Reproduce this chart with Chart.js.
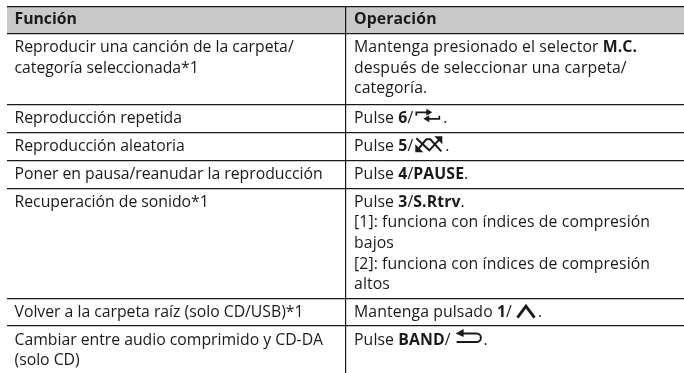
<!DOCTYPE html>
<html>
<head>
<meta charset="utf-8">
<script src="https://cdn.jsdelivr.net/npm/chart.js"></script>
<style>
  html, body { margin: 0; padding: 0; background: #fff; }
  #wrap { width: 684px; height: 373px; }
</style>
</head>
<body>
<div id="wrap"><canvas id="tabla"></canvas></div>
<script>
// Contenido de la tabla
const columnas = ['Función', 'Operación'];
const funciones = [
  ['Reproducir una canción de la carpeta/', 'categoría seleccionada*1'],
  ['Reproducción repetida'],
  ['Reproducción aleatoria'],
  ['Poner en pausa/reanudar la reproducción'],
  ['Recuperación de sonido*1'],
  ['Volver a la carpeta raíz (solo CD/USB)*1'],
  ['Cambiar entre audio comprimido y CD-DA', '(solo CD)']
];
// **negrita**, {icono}
const operaciones = [
  ['Mantenga presionado el selector **M.C.**', 'después de seleccionar una carpeta/', 'categoría.'],
  ['Pulse **6**/{repetir}.'],
  ['Pulse **5**/{aleatorio}.'],
  ['Pulse **4**/**PAUSE**.'],
  ['Pulse **3**/**S.Rtrv**.', '[1]: funciona con índices de compresión', 'bajos', '[2]: funciona con índices de compresión', 'altos'],
  ['Mantenga pulsado **1**/{arriba}.'],
  ['Pulse **BAND**/{volver}.']
];

// Medidas de la tabla, en px
const anchoTabla = 677, altoTabla = 367, anchoCol1 = 339;
const altoCabecera = 27;
const altosFila = [71.5, 28, 27.5, 28, 110.5, 27.5];
const margenTexto = 7.5, primeraBase = 18, interlinea = 20.7;
const fuente = '"Open Sans"';
const tamano = 15.8, espaciadoCol1 = '-0.02px', espaciadoCol2 = '0.1px';

function limites() {
  const ys = [0, altoCabecera];
  altosFila.forEach(h => ys.push(ys[ys.length - 1] + h));
  return ys;
}

// Iconos de los botones, relativos al cursor y la linea base
const iconos = {
  repetir: { hueco: 1, ancho: 27, dibujar(c, x, y) {
    c.save();
    c.lineWidth = 1.7;
    c.beginPath();
    c.moveTo(x + 2, y - 7.5); c.lineTo(x + 2, y - 11); c.lineTo(x + 13, y - 11);
    c.moveTo(x + 25, y - 7.5); c.lineTo(x + 25, y - 4.5); c.lineTo(x + 13, y - 4.5);
    c.stroke();
    c.restore();
    c.beginPath();
    c.moveTo(x + 12, y - 14.5); c.lineTo(x + 18, y - 11); c.lineTo(x + 12, y - 7.5); c.closePath();
    c.moveTo(x + 15, y - 8); c.lineTo(x + 9, y - 4.5); c.lineTo(x + 15, y - 1); c.closePath();
    c.fill();
  } },
  aleatorio: { hueco: 1, ancho: 29, dibujar(c, x, y) {
    c.beginPath();
    c.moveTo(x + 2, y - 13); c.lineTo(x + 15, y - 1); c.lineTo(x + 26, y - 13);
    c.moveTo(x + 2, y); c.lineTo(x + 12, y - 12); c.lineTo(x + 16, y - 12); c.lineTo(x + 27, y);
    c.stroke();
    c.beginPath();
    c.moveTo(x + 20, y - 15); c.lineTo(x + 28, y - 15); c.lineTo(x + 28, y - 7); c.closePath();
    c.moveTo(x + 1, y - 7); c.lineTo(x + 1, y + 1); c.lineTo(x + 9, y + 1); c.closePath();
    c.fill();
  } },
  arriba: { hueco: 4, ancho: 20, dibujar(c, x, y) {
    c.save();
    c.lineWidth = 2.8;
    c.beginPath();
    c.moveTo(x + 1.5, y + 0.5); c.lineTo(x + 10, y - 11); c.lineTo(x + 18.5, y + 0.5);
    c.stroke();
    c.restore();
  } },
  volver: { hueco: 5, ancho: 26, dibujar(c, x, y) {
    c.beginPath();
    c.moveTo(x + 5, y - 11); c.lineTo(x + 21, y - 11);
    c.arc(x + 21, y - 6.75, 4.25, -Math.PI / 2, Math.PI / 2);
    c.lineTo(x + 1, y - 2.5);
    c.stroke();
    c.beginPath();
    c.moveTo(x + 8, y - 15.5); c.lineTo(x, y - 11); c.lineTo(x + 8, y - 7.5); c.closePath();
    c.fill();
  } }
};

function escribir(c, linea, x, y, baseNegrita) {
  linea.split(/(\*\*.+?\*\*|\{.+?\})/).filter(Boolean).forEach(trozo => {
    if (trozo[0] === '{') {
      const ic = iconos[trozo.slice(1, -1)];
      ic.dibujar(c, x + ic.hueco, y);
      x += ic.ancho + ic.hueco + 2;
      return;
    }
    const negrita = baseNegrita || trozo.startsWith('**');
    const txt = trozo.replace(/\*\*/g, '');
    c.font = (negrita ? '700 ' : '400 ') + tamano + 'px ' + fuente;
    c.fillText(txt, x, y);
    x += c.measureText(txt).width;
  });
}

const textoTabla = {
  id: 'textoTabla',
  afterDraw(chart) {
    const c = chart.ctx, sx = chart.scales.x, sy = chart.scales.y;
    const ys = limites();
    c.save();
    c.fillStyle = c.strokeStyle = '#1a1a1a';
    c.lineWidth = 2;
    c.textBaseline = 'alphabetic';
    const col1 = sx.getPixelForValue(margenTexto);
    const col2 = sx.getPixelForValue(anchoCol1 + margenTexto + 0.5);
    c.letterSpacing = espaciadoCol1;
    escribir(c, columnas[0], col1, sy.getPixelForValue(primeraBase), true);
    funciones.forEach((lineas, i) => {
      const base = ys[i + 1] + primeraBase + 0.5;
      lineas.forEach((l, j) => escribir(c, l, col1, sy.getPixelForValue(base + j * interlinea)));
    });
    c.letterSpacing = espaciadoCol2;
    escribir(c, columnas[1], col2, sy.getPixelForValue(primeraBase), true);
    operaciones.forEach((lineas, i) => {
      const base = ys[i + 1] + primeraBase + 0.5;
      lineas.forEach((l, j) => escribir(c, l, col2, sy.getPixelForValue(base + j * interlinea)));
    });
    c.restore();
  }
};

new Chart(document.getElementById('tabla'), {
  type: 'bar',
  data: {
    datasets: [{
      label: 'Cabecera',
      data: [{ x: [0, anchoTabla], y: altoCabecera / 2 }],
      backgroundColor: '#c9c9c9',
      barThickness: altoCabecera
    }]
  },
  options: {
    indexAxis: 'y',
    responsive: true,
    maintainAspectRatio: false,
    animation: false,
    layout: { padding: { left: 7, top: 6.5 } },
    plugins: { legend: { display: false }, tooltip: { enabled: false }, title: { display: false } },
    scales: {
      x: {
        type: 'linear', position: 'top', min: 0, max: anchoTabla, offset: false,
        afterBuildTicks: a => { a.ticks = [{ value: anchoCol1 }]; },
        ticks: { display: false },
        border: { display: false },
        grid: { color: '#1a1a1a', lineWidth: 1.2, drawTicks: false, offset: false, z: 1 }
      },
      y: {
        type: 'linear', reverse: true, min: 0, max: altoTabla, offset: false,
        afterBuildTicks: a => { a.ticks = limites().map(v => ({ value: v })); },
        ticks: { display: false },
        border: { display: false },
        grid: { color: '#1a1a1a', lineWidth: 1.2, drawTicks: false, offset: false, z: 1 }
      }
    }
  },
  plugins: [textoTabla]
});
</script>
</body>
</html>
